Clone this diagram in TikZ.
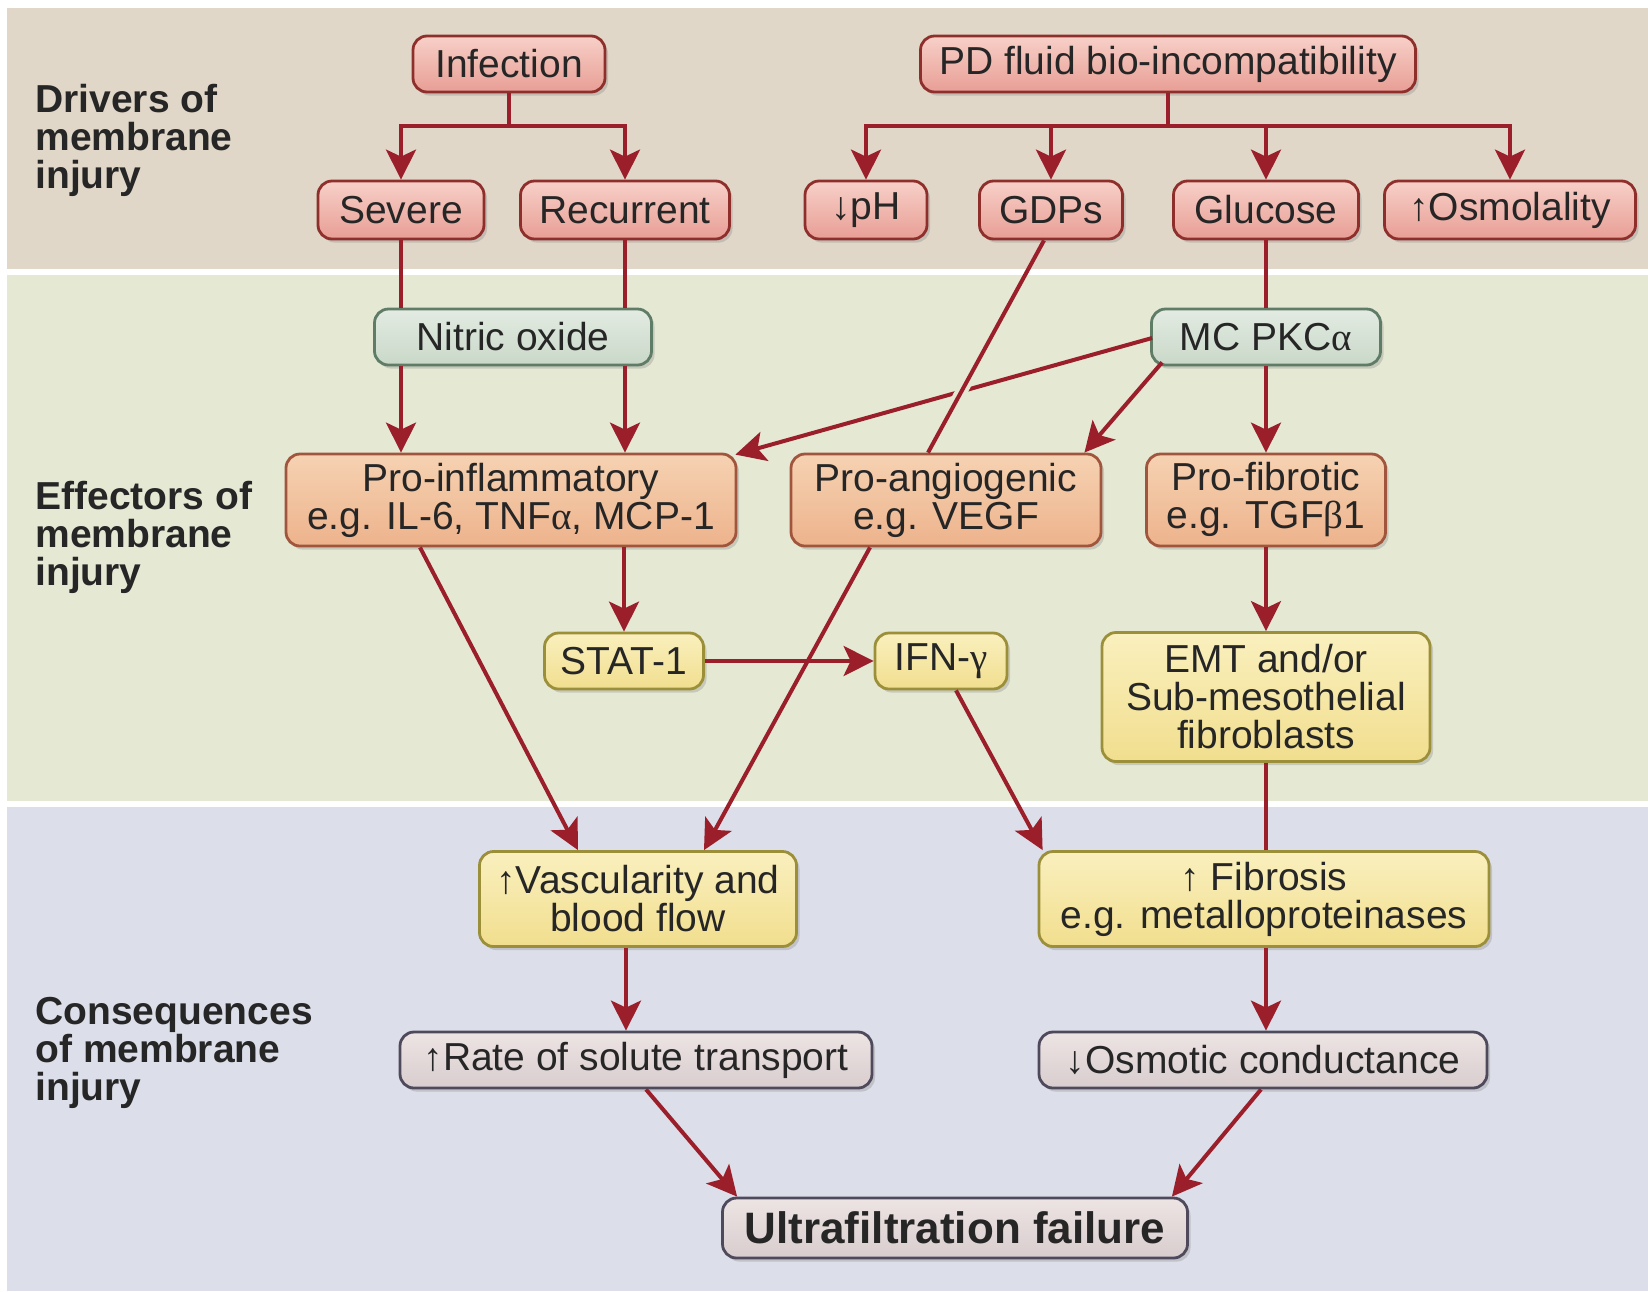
\documentclass[tikz,border=0pt]{standalone}
\usepackage{fontspec}
\setmainfont{Liberation Sans}
\newfontfamily\grk{Liberation Serif}
\usetikzlibrary{shadows,arrows.meta,calc}
\definecolor{bandA}{HTML}{E1D7C8}
\definecolor{bandB}{HTML}{E5E9D4}
\definecolor{bandC}{HTML}{DCDEE9}
\definecolor{arrowc}{HTML}{9B1F2A}
\definecolor{redT}{HTML}{F7D0C8}\definecolor{redB}{HTML}{E89E95}\definecolor{redD}{HTML}{8E2F2C}
\definecolor{grnT}{HTML}{E3EBE2}\definecolor{grnB}{HTML}{C9D8C8}\definecolor{grnD}{HTML}{5F7C66}
\definecolor{orgT}{HTML}{F6D2B2}\definecolor{orgB}{HTML}{EDB38C}\definecolor{orgD}{HTML}{A0553C}
\definecolor{ylwT}{HTML}{FAF0BE}\definecolor{ylwB}{HTML}{F1DE8E}\definecolor{ylwD}{HTML}{9C8F3A}
\definecolor{gryT}{HTML}{EDE4E4}\definecolor{gryB}{HTML}{D9CDCE}\definecolor{gryD}{HTML}{4E4A5C}
\begin{document}
\begin{tikzpicture}[x=0.5pt,y=-0.5pt,
  base/.style={rounded corners=7pt, line width=1.4pt, align=center, inner sep=0pt,
    font=\fontsize{19.5}{19}\selectfont, text=black!85,
    drop shadow={shadow xshift=1.5pt, shadow yshift=-1.8pt, opacity=0.3}},
  sz/.style 2 args={minimum width=#1*0.5pt, minimum height=#2*0.5pt},
  redbox/.style={base, draw=redD, top color=redT, bottom color=redB},
  greenbox/.style={base, draw=grnD, top color=grnT, bottom color=grnB},
  orangebox/.style={base, draw=orgD, top color=orgT, bottom color=orgB},
  yellowbox/.style={base, draw=ylwD, top color=ylwT, bottom color=ylwB},
  greybox/.style={base, draw=gryD, top color=gryT, bottom color=gryB},
  lbl/.style={font=\bfseries\fontsize{19.5}{19}\selectfont, text=black!85, align=left, inner sep=0pt, anchor=west},
  ln/.style={line width=2pt, draw=arrowc},
  arr/.style={ln, -{Stealth[length=15pt,width=15pt,inset=3.5pt]}}
]
\useasboundingbox (0,0) rectangle (1648,1291);
\fill[white] (0,0) rectangle (1648,1291);
\fill[bandA] (7,8) rectangle (1648,269);
\fill[bandB] (7,275) rectangle (1648,801);
\fill[bandC] (7,807) rectangle (1648,1291);

% labels
\node[lbl] (l1) at (35,140) {Drivers of\\membrane\\injury};
\node[lbl] (l2) at (35,537) {Effectors of\\membrane\\injury};
\node[lbl] (l3) at (35,1053) {Consequences\\of membrane\\injury};

% drivers
\node[redbox, sz={192}{56}] (inf) at (509,64) {Infection};
\node[redbox, sz={495}{56}] (pd) at (1168,64) {PD fluid bio-incompatibility};
\node[redbox, sz={166}{58}] (sev) at (401,210) {Severe};
\node[redbox, sz={209}{58}] (rec) at (625,210) {Recurrent};
\node[redbox, sz={122}{58}] (ph) at (866,210) {↓pH};
\node[redbox, sz={143}{58}] (gdp) at (1051,210) {GDPs};
\node[redbox, sz={185}{58}] (glu) at (1266,210) {Glucose};
\node[redbox, sz={251}{58}] (osm) at (1510,210) {↑Osmolality};

% effectors
\node[greenbox, sz={277}{56}] (no) at (513,337) {Nitric oxide};
\node[greenbox, sz={229}{56}] (mc) at (1266,337) {MC PKC{\grk α}};
\node[orangebox, sz={450}{92}] (pi) at (511,500) {Pro-inflammatory\\e.g. IL-6, TNF{\grk α}, MCP-1};
\node[orangebox, sz={310}{92}] (pa) at (946,500) {Pro-angiogenic\\e.g. VEGF};
\node[orangebox, sz={239}{92}] (pf) at (1266,500) {Pro-fibrotic\\e.g. TGF{\grk β}1};
\node[yellowbox, sz={159}{56}] (stat) at (624,661) {STAT-1};
\node[yellowbox, sz={132}{56}] (ifn) at (941,661) {IFN-{\grk γ}};
\node[yellowbox, sz={328}{129}] (emt) at (1266,697) {EMT and/or\\Sub-mesothelial\\fibroblasts};

% consequences
\node[yellowbox, sz={317}{95}] (vas) at (638,899) {↑Vascularity and\\blood flow};
\node[yellowbox, sz={450}{95}] (fib) at (1264,899) {↑ Fibrosis\\e.g. metalloproteinases};
\node[greybox, sz={472}{56}] (rate) at (636,1060) {↑Rate of solute transport};
\node[greybox, sz={448}{56}] (osmc) at (1263,1060) {↓Osmotic conductance};
\node[greybox, sz={465}{60}, font=\bfseries\fontsize{22}{24}\selectfont] (uf) at (955,1228) {Ultrafiltration failure};

% branches
\coordinate (ib) at (509,126);
\coordinate (pb) at (1168,126);
\draw[ln] (inf.south) -- (ib);
\draw[arr] (ib) -| (sev.north);
\draw[arr] (ib) -| (rec.north);
\draw[ln] (pd.south) -- (pb);
\draw[arr] (pb) -| (ph.north);
\draw[arr] (pb) -| (gdp.north);
\draw[arr] (pb) -| (glu.north);
\draw[arr] (pb) -| (osm.north);

% verticals through nitric oxide
\draw[ln] (sev.south) -- (sev.south |- no.north);
\draw[ln] (rec.south) -- (rec.south |- no.north);
\draw[arr] (sev.south |- no.south) -- (sev.south |- pi.north);
\draw[arr] (rec.south |- no.south) -- (rec.south |- pi.north);

% glucose chain
\draw[ln] (glu.south) -- (mc.north);
\draw[arr] (mc.south) -- (pf.north);
\draw[arr] (pf.south) -- (emt.north);
\draw[ln] (emt.south) -- (emt.south |- fib.north);
\draw[arr] (emt.south |- fib.south) -- (emt.south |- osmc.north);

% MC PKC arrows
\draw[arr] ($(mc.west)+(2,1)$) -- ($(pi.north east)+(-2,2)$);
\draw[arr] ($(mc.south west)+(12,-4)$) -- ($(pa.north east)+(-18,0)$);

% GDPs line with gap
\coordinate (gs) at ($(gdp.south)+(-7,0)$);
\coordinate (pn) at ($(pa.north)+(-18,0)$);
\draw[line width=6pt, draw=bandB] ($(gs)!0.64!(pn)$) -- ($(gs)!0.78!(pn)$);
\draw[ln] (gs) -- (pn);

% effectors to consequences
\draw[arr] (pi.south -| stat.north) -- (stat.north);
\draw[arr] (stat.east) -- (ifn.west);
\draw[arr] ($(pi.south)+(-91,0)$) -- ($(vas.north)+(-60,0)$);
\draw[arr] ($(pa.south)+(-76,0)$) -- ($(vas.north)+(66,0)$);
\draw[arr] ($(ifn.south)+(15,0)$) -- ($(fib.north west)+(5,0)$);

\draw[arr] ($(vas.south)+(-12,0)$) -- ($(rate.north)+(-10,0)$);
\draw[arr] ($(rate.south)+(10,0)$) -- ($(uf.north west)+(16,0)$);
\draw[arr] ($(osmc.south)+(-2,0)$) -- ($(uf.north east)+(-17,0)$);
\end{tikzpicture}
\end{document}
